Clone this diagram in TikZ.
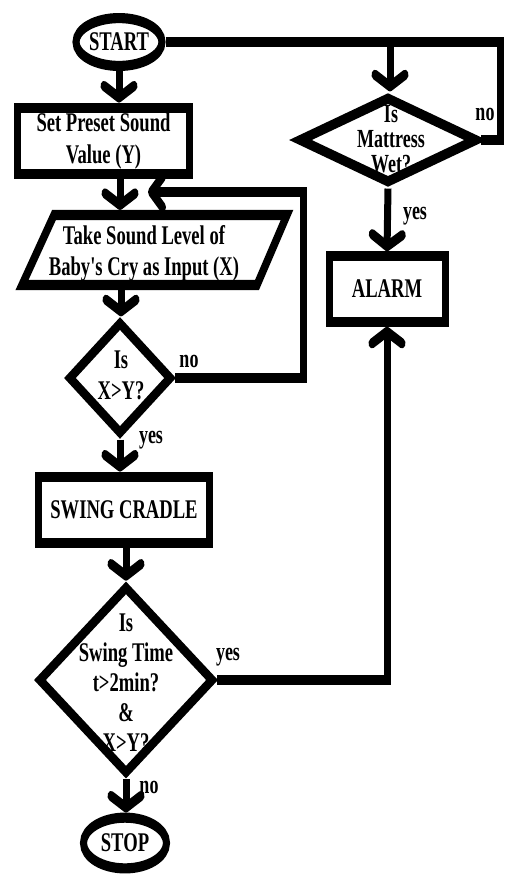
\documentclass[tikz,border=0pt]{standalone}
\usepackage{fontspec}
\setmainfont{Liberation Serif}
\usetikzlibrary{shapes.geometric,arrows.meta}
\begin{document}
\begin{tikzpicture}[x=1pt,y=-1pt,line width=7pt,
  box/.style={draw,rectangle,inner sep=0pt,line width=7pt,font=\bfseries\fontsize{18.6}{21.4}\selectfont,align=center},
  term/.style={draw,ellipse,inner sep=0pt,line width=7pt,font=\bfseries\fontsize{18.6}{21.4}\selectfont},
  dia/.style={draw,diamond,inner sep=0pt,line width=7pt},
  txt/.style={font=\bfseries\fontsize{18.6}{21.4}\selectfont,align=center,inner sep=0pt},
  lbl/.style={font=\bfseries\fontsize{18}{20}\selectfont,inner sep=0pt},
  arr/.style={-{Straight Barb[length=8pt,width=30pt,line cap=round,line join=round]}},
  harr/.style={-{Straight Barb[length=11pt,width=21pt,line cap=round,line join=round]}}]
\useasboundingbox (0,0) rectangle (504,876);
\begin{scope}[transform canvas={yscale=1.45},y=-0.68966pt]
% nodes
\node[term,minimum width=86,minimum height=33] (start) at (119,42) {START};
\node[box,minimum width=172,minimum height=46] (preset) at (103.5,141) {Set Preset Sound\\Value (Y)};
\draw[line join=miter] (54,215) -- (287,215) -- (257,285) -- (22,285) -- cycle;
\node[txt] (inT) at (144,253) {Take Sound Level of\\Baby\textquotesingle s Cry as Input (X)};
\coordinate (inTop) at (120,210);
\coordinate (inBot) at (121,290);
\node[dia,minimum width=103,minimum height=78] (xy) at (120,378) {};
\node[txt] (xyT) at (121,375) {Is\\X>Y?};
\node[box,minimum width=171,minimum height=46] (swing) at (124,510) {SWING CRADLE};
\node[dia,minimum width=175,minimum height=130] (big) at (126,680) {};
\node[txt,font=\bfseries\fontsize{18.6}{20.7}\selectfont] (bigT) at (126,683) {Is\\Swing Time\\t>2min?\\\&\\X>Y?};
\node[term,minimum width=83,minimum height=35] (stop) at (125,843) {STOP};
\node[dia,minimum width=178,minimum height=60] (mat) at (388,140) {};
\node[txt,font=\bfseries\fontsize{18}{17}\selectfont] (matT) at (391,139) {Is\\Mattress\\Wet?};
\node[box,minimum width=116,minimum height=45] (alarm) at (387,289) {ALARM};
% labels
\node[lbl] (l1) at (485,114) {no};
\node[lbl] (l2) at (415,216) {yes};
\node[lbl] (l3) at (189,361) {no};
\node[lbl] (l4) at (151,440) {yes};
\node[lbl] (l5) at (228,657) {yes};
\node[lbl] (l6) at (149,787) {no};
% coordinates
\coordinate (tr) at (500,42);
\coordinate (br) at (390,42);
\coordinate (loopA) at (303,192);
\coordinate (loopEnd) at (148,192);
% connectors
\draw[arr] (start.south) -- (start.south |- preset.north);
\draw (start.east) -- (tr) |- (mat.east);
\draw[arr] (br) -- (br |- mat.north);
\draw[arr] (mat.south) -- (alarm.north);
\draw[arr] (inTop |- preset.south) -- (inTop);
\draw[arr] (inBot) -- (inBot |- xy.north);
\draw[harr] (xy.east) -| (loopA) -- (loopEnd);
\draw[arr] (xy.south) -- (xy.south |- swing.north);
\draw[arr] (big.north |- swing.south) -- (big.north);
\draw[arr] (big.east) -| (alarm.south);
\draw[arr] (big.south) -- (big.south |- stop.north);
\end{scope}
\end{tikzpicture}
\end{document}
